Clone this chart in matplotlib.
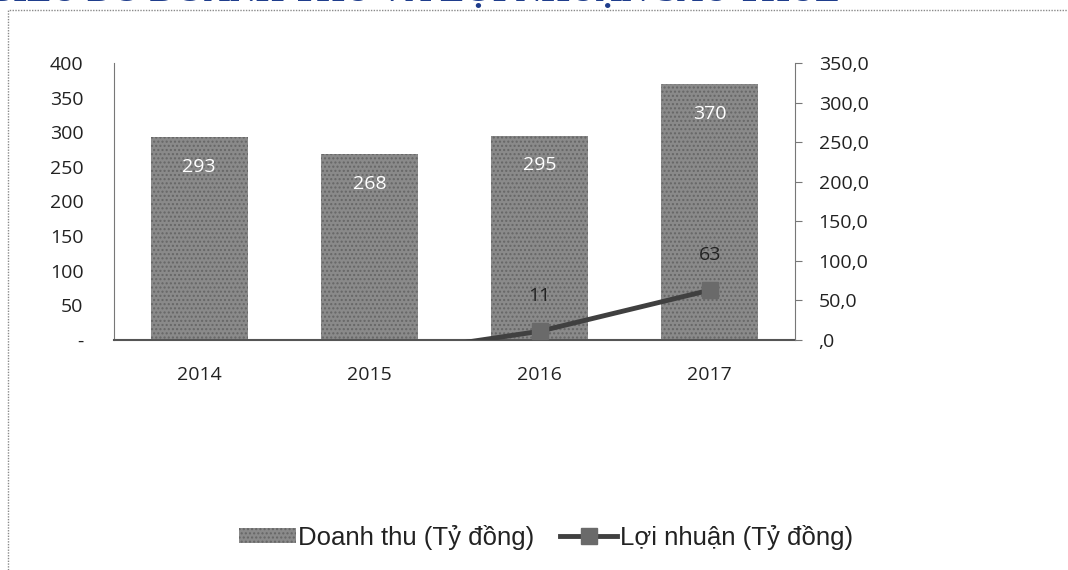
import numpy as np
import matplotlib
matplotlib.use("Agg")
import matplotlib.pyplot as plt
from matplotlib.patches import Rectangle
from matplotlib.lines import Line2D
from matplotlib.patches import Patch

years = ["2014", "2015", "2016", "2017"]
revenue = [293, 268, 295, 370]
profit = [np.nan, -21, 11, 63]
left_ticks = [0, 50, 100, 150, 200, 250, 300, 350, 400]
left_labels = ["-", "50", "100", "150", "200", "250", "300", "350", "400"]
right_ticks = [0, 50, 100, 150, 200, 250, 300, 350]
right_labels = [",0", "50,0", "100,0", "150,0", "200,0", "250,0", "300,0", "350,0"]
title = "BIỂU ĐỒ DOANH THU VÀ LỢI NHUẬN SAU THUẾ"
legend_labels = ["Doanh thu (Tỷ đồng)", "Lợi nhuận (Tỷ đồng)"]

tick_font = ["Open Sans", "DejaVu Sans"]
leg_font = ["Liberation Sans", "DejaVu Sans"]

fig = plt.figure(figsize=(10.68, 5.70), dpi=100)
W, H = 1068, 570

# chart frame (dotted)
fig.patches.append(Rectangle((8 / W, -0.1), 1.2, 1 - 10 / H + 0.1, transform=fig.transFigure,
                             fill=False, edgecolor="#8a8a8a", linestyle=(0, (1, 1)), linewidth=1.0))

# title, cut off at top (as in the scanned reference)
fig.text(840 / W, 1 - 1.5 / H, title, ha="right", va="baseline", fontsize=26, fontweight="bold",
         color="#1f3d8c", family=["Liberation Serif", "DejaVu Serif"])

ax = fig.add_axes([114 / W, 1 - 340 / H, (795 - 114) / W, (340 - 63) / H])
x = np.arange(len(years))
bars = ax.bar(x, revenue, width=0.57, color="#8a8a8a", edgecolor="#666666", linewidth=0,
              hatch="....", zorder=2)
ax.set_xlim(-0.5, len(years) - 0.5)
ax.set_ylim(0, 400)
ax.set_yticks(left_ticks)
ax.set_yticklabels(left_labels, family=tick_font, fontsize=14, color="#222222")
ax.tick_params(axis="y", length=0, pad=22)
ax.set_xticks(x)
ax.set_xticklabels(years, family=tick_font, fontsize=14, color="#222222")
ax.tick_params(axis="x", length=0, pad=19)
for s in ["top", "right"]:
    ax.spines[s].set_visible(False)
ax.spines["left"].set_color("#777777")
ax.spines["bottom"].set_color("#555555")
ax.spines["bottom"].set_linewidth(1.5)

for xi, v in zip(x, revenue):
    ax.text(xi, v - 43, f"{v}", ha="center", va="center", fontsize=14, color="white",
            family=tick_font, zorder=5)

ax2 = ax.twinx()
ax2.set_ylim(0, 350)
ax2.plot(x, profit, color="#404040", linewidth=3.5, marker="s", markersize=12,
         markerfacecolor="#6a6a6a", markeredgecolor="#6a6a6a", zorder=4)
ax2.set_yticks(right_ticks)
ax2.set_yticklabels(right_labels, family=tick_font, fontsize=14, color="#222222")
ax2.tick_params(axis="y", length=5, pad=12, color="#777777")
for s in ["top", "left", "bottom"]:
    ax2.spines[s].set_visible(False)
ax2.spines["right"].set_color("#777777")
for xi, v in zip(x, profit):
    if np.isfinite(v) and v > 0:
        ax2.text(xi, v + 45, f"{v:g}", ha="center", va="center", fontsize=14, color="#222222",
                 family=tick_font, zorder=5)

handles = [Patch(facecolor="#8a8a8a", edgecolor="#666666", hatch="....", linewidth=0),
           Line2D([0], [0], color="#404040", linewidth=3.5, marker="s", markersize=12,
                  markerfacecolor="#6a6a6a", markeredgecolor="#6a6a6a")]
fig.legend(handles, legend_labels, loc="center", bbox_to_anchor=(546 / W, 1 - 537 / H),
           ncol=2, frameon=False, prop={"family": leg_font, "size": 18.5},
           handlelength=2.2, handleheight=0.5, handletextpad=0.1, columnspacing=1.0,
           labelcolor="#222222")

fig.savefig("out.png", dpi=100)
